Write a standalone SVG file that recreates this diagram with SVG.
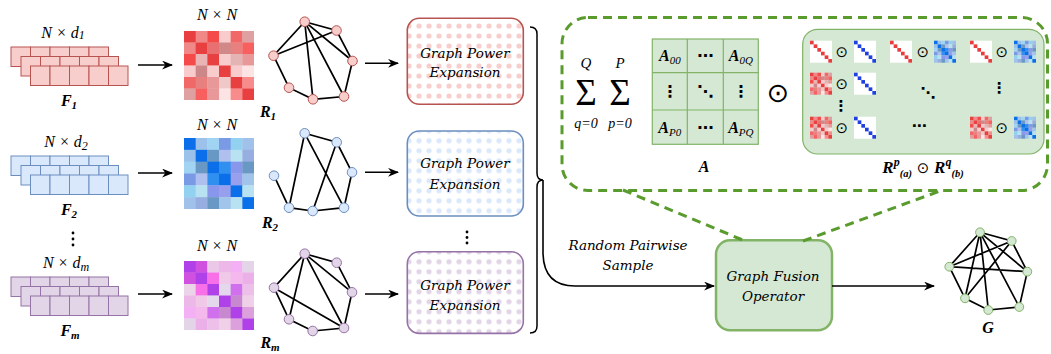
<svg xmlns="http://www.w3.org/2000/svg" xmlns:xlink="http://www.w3.org/1999/xlink" width="1051" height="354" viewBox="0 0 1051 354">
<style>
.m{font-family:"Liberation Serif",serif;font-style:italic}
.b{font-weight:bold}
.lb{font-family:"DejaVu Serif",serif;font-style:italic;font-size:13.5px}
.sym{font-family:"DejaVu Sans",sans-serif;font-style:normal;font-weight:normal}
.e{stroke:#000;stroke-width:1.7;fill:none}
.ar{stroke:#000;stroke-width:1.6;fill:none;marker-end:url(#ah)}
.nr{fill:#f8cecc;stroke:#b85450;stroke-width:1}
.nb{fill:#dae8fc;stroke:#6c8ebf;stroke-width:1}
.np{fill:#e1d5e7;stroke:#9673a6;stroke-width:1}
.ng{fill:#d5e8d4;stroke:#82b366;stroke-width:1}
.gd{stroke:#5a9b2e;stroke-width:3;fill:none;stroke-dasharray:9 6}
</style>
<defs>
<marker id="ah" viewBox="0 0 10 8" refX="9" refY="4" markerWidth="11" markerHeight="9" markerUnits="userSpaceOnUse" orient="auto"><path d="M0,0 L10,4 L0,8 L3,4 Z" fill="#000"/></marker>
<g id="layer"><rect x="0" y="0" width="19.5" height="19.5"/><rect x="19.5" y="0" width="19.5" height="19.5"/><rect x="39" y="0" width="19.5" height="19.5"/><rect x="58.5" y="0" width="19.5" height="19.5"/><rect x="78" y="0" width="19.5" height="19.5"/></g>
<g id="stack"><use xlink:href="#layer"/><use xlink:href="#layer" x="10" y="9.5"/><use xlink:href="#layer" x="19.5" y="19"/></g>
<pattern id="dr" x="414" y="21" width="10" height="10" patternUnits="userSpaceOnUse"><rect width="10" height="10" fill="#fff"/><circle cx="5" cy="5" r="2.6" fill="#f8cecc"/></pattern>
<pattern id="db" x="414" y="135.7" width="10" height="10" patternUnits="userSpaceOnUse"><rect width="10" height="10" fill="#fff"/><circle cx="5" cy="5" r="2.6" fill="#dae8fc"/></pattern>
<pattern id="dp" x="414" y="256.7" width="10" height="10" patternUnits="userSpaceOnUse"><rect width="10" height="10" fill="#fff"/><circle cx="5" cy="5" r="2.6" fill="#e1d5e7"/></pattern>
<g id="mR">
<rect x="0" y="0" width="10.3" height="10.3" fill="#e84040"/><rect x="10" y="0" width="10.3" height="10.3" fill="#f08888"/><rect x="20" y="0" width="10.3" height="10.3" fill="#f54a4a"/><rect x="30" y="0" width="10.3" height="10.3" fill="#f8cccc"/><rect x="40" y="0" width="10.3" height="10.3" fill="#f06868"/><rect x="50" y="0" width="10" height="10.3" fill="#dea0a0"/>
<rect x="0" y="10" width="10.3" height="10.3" fill="#f08888"/><rect x="10" y="10" width="10.3" height="10.3" fill="#e84040"/><rect x="20" y="10" width="10.3" height="10.3" fill="#e87070"/><rect x="30" y="10" width="10.3" height="10.3" fill="#d08888"/><rect x="40" y="10" width="10.3" height="10.3" fill="#e88080"/><rect x="50" y="10" width="10" height="10.3" fill="#f86060"/>
<rect x="0" y="20" width="10.3" height="10.3" fill="#f54a4a"/><rect x="10" y="20" width="10.3" height="10.3" fill="#eab4b4"/><rect x="20" y="20" width="10.3" height="10.3" fill="#e84040"/><rect x="30" y="20" width="10.3" height="10.3" fill="#f8cccc"/><rect x="40" y="20" width="10.3" height="10.3" fill="#e4b4b4"/><rect x="50" y="20" width="10" height="10.3" fill="#e89898"/>
<rect x="0" y="30" width="10.3" height="10.3" fill="#f8cccc"/><rect x="10" y="30" width="10.3" height="10.3" fill="#cc8888"/><rect x="20" y="30" width="10.3" height="10.3" fill="#f8cccc"/><rect x="30" y="30" width="10.3" height="10.3" fill="#e84040"/><rect x="40" y="30" width="10.3" height="10.3" fill="#f8cccc"/><rect x="50" y="30" width="10" height="10.3" fill="#fde4e4"/>
<rect x="0" y="40" width="10.3" height="10.3" fill="#f06868"/><rect x="10" y="40" width="10.3" height="10.3" fill="#e88080"/><rect x="20" y="40" width="10.3" height="10.3" fill="#e89898"/><rect x="30" y="40" width="10.3" height="10.3" fill="#f0c8c8"/><rect x="40" y="40" width="10.3" height="10.3" fill="#e84040"/><rect x="50" y="40" width="10" height="10.3" fill="#f88c8c"/>
<rect x="0" y="50" width="10.3" height="10" fill="#dea0a0"/><rect x="10" y="50" width="10.3" height="10" fill="#f86060"/><rect x="20" y="50" width="10.3" height="10" fill="#e89898"/><rect x="30" y="50" width="10.3" height="10" fill="#fde4e4"/><rect x="40" y="50" width="10.3" height="10" fill="#f88c8c"/><rect x="50" y="50" width="10" height="10" fill="#e84040"/>
</g>
<g id="mB">
<rect x="0" y="0" width="10.3" height="10.3" fill="#0a6fe8"/><rect x="10" y="0" width="10.3" height="10.3" fill="#9cc2ec"/><rect x="20" y="0" width="10.3" height="10.3" fill="#a0d4f2"/><rect x="30" y="0" width="10.3" height="10.3" fill="#7a9ae6"/><rect x="40" y="0" width="10.3" height="10.3" fill="#92d2f0"/><rect x="50" y="0" width="10" height="10.3" fill="#a0c2ea"/>
<rect x="0" y="10" width="10.3" height="10.3" fill="#9cc2ec"/><rect x="10" y="10" width="10.3" height="10.3" fill="#0a6fe8"/><rect x="20" y="10" width="10.3" height="10.3" fill="#6a98c4"/><rect x="30" y="10" width="10.3" height="10.3" fill="#b0c0ee"/><rect x="40" y="10" width="10.3" height="10.3" fill="#b8e2f2"/><rect x="50" y="10" width="10" height="10.3" fill="#96aee0"/>
<rect x="0" y="20" width="10.3" height="10.3" fill="#a0d4f2"/><rect x="10" y="20" width="10.3" height="10.3" fill="#6a98c4"/><rect x="20" y="20" width="10.3" height="10.3" fill="#0a6fe8"/><rect x="30" y="20" width="10.3" height="10.3" fill="#3090f0"/><rect x="40" y="20" width="10.3" height="10.3" fill="#8896ec"/><rect x="50" y="20" width="10" height="10.3" fill="#6a98c4"/>
<rect x="0" y="30" width="10.3" height="10.3" fill="#7a9ae6"/><rect x="10" y="30" width="10.3" height="10.3" fill="#b0c0ee"/><rect x="20" y="30" width="10.3" height="10.3" fill="#3090f0"/><rect x="30" y="30" width="10.3" height="10.3" fill="#0a6fe8"/><rect x="40" y="30" width="10.3" height="10.3" fill="#98a0ee"/><rect x="50" y="30" width="10" height="10.3" fill="#a0c4ea"/>
<rect x="0" y="40" width="10.3" height="10.3" fill="#92d2f0"/><rect x="10" y="40" width="10.3" height="10.3" fill="#b8e2f2"/><rect x="20" y="40" width="10.3" height="10.3" fill="#8896ec"/><rect x="30" y="40" width="10.3" height="10.3" fill="#98a0ee"/><rect x="40" y="40" width="10.3" height="10.3" fill="#0a6fe8"/><rect x="50" y="40" width="10" height="10.3" fill="#b8e2f2"/>
<rect x="0" y="50" width="10.3" height="10" fill="#a0c2ea"/><rect x="10" y="50" width="10.3" height="10" fill="#96aee0"/><rect x="20" y="50" width="10.3" height="10" fill="#6a98c4"/><rect x="30" y="50" width="10.3" height="10" fill="#a0c4ea"/><rect x="40" y="50" width="10.3" height="10" fill="#b8e2f2"/><rect x="50" y="50" width="10" height="10" fill="#0a6fe8"/>
</g>
<g id="mP">
<rect x="0" y="0" width="10.3" height="10.3" fill="#b040e8"/><rect x="10" y="0" width="10.3" height="10.3" fill="#d050e0"/><rect x="20" y="0" width="10.3" height="10.3" fill="#ecc8e8"/><rect x="30" y="0" width="10.3" height="10.3" fill="#ecb8e8"/><rect x="40" y="0" width="10.3" height="10.3" fill="#f4b0f4"/><rect x="50" y="0" width="10" height="10.3" fill="#e4d4e8"/>
<rect x="0" y="10" width="10.3" height="10.3" fill="#d050e0"/><rect x="10" y="10" width="10.3" height="10.3" fill="#b040e8"/><rect x="20" y="10" width="10.3" height="10.3" fill="#f870e8"/><rect x="30" y="10" width="10.3" height="10.3" fill="#f0c8e8"/><rect x="40" y="10" width="10.3" height="10.3" fill="#f4b8ec"/><rect x="50" y="10" width="10" height="10.3" fill="#ecb0e8"/>
<rect x="0" y="20" width="10.3" height="10.3" fill="#ecd4e8"/><rect x="10" y="20" width="10.3" height="10.3" fill="#f870e8"/><rect x="20" y="20" width="10.3" height="10.3" fill="#b040e8"/><rect x="30" y="20" width="10.3" height="10.3" fill="#e4d8ec"/><rect x="40" y="20" width="10.3" height="10.3" fill="#d070ec"/><rect x="50" y="20" width="10" height="10.3" fill="#ecc0e8"/>
<rect x="0" y="30" width="10.3" height="10.3" fill="#ecb8e8"/><rect x="10" y="30" width="10.3" height="10.3" fill="#f0c8e8"/><rect x="20" y="30" width="10.3" height="10.3" fill="#e4d8ec"/><rect x="30" y="30" width="10.3" height="10.3" fill="#b040e8"/><rect x="40" y="30" width="10.3" height="10.3" fill="#c888d0"/><rect x="50" y="30" width="10" height="10.3" fill="#f0d0e8"/>
<rect x="0" y="40" width="10.3" height="10.3" fill="#f4b0f4"/><rect x="10" y="40" width="10.3" height="10.3" fill="#f4b8ec"/><rect x="20" y="40" width="10.3" height="10.3" fill="#d070ec"/><rect x="30" y="40" width="10.3" height="10.3" fill="#c888d0"/><rect x="40" y="40" width="10.3" height="10.3" fill="#b040e8"/><rect x="50" y="40" width="10" height="10.3" fill="#dca0dc"/>
<rect x="0" y="50" width="10.3" height="10" fill="#e4d4e8"/><rect x="10" y="50" width="10.3" height="10" fill="#ecb0e8"/><rect x="20" y="50" width="10.3" height="10" fill="#ecc0e8"/><rect x="30" y="50" width="10.3" height="10" fill="#f0d0e8"/><rect x="40" y="50" width="10.3" height="10" fill="#dca0dc"/><rect x="50" y="50" width="10" height="10" fill="#b040e8"/>
</g>
<g id="mD"><rect width="60" height="60" fill="#fff"/><rect x="0" y="0" width="10" height="10"/><rect x="10" y="10" width="10" height="10"/><rect x="20" y="20" width="10" height="10"/><rect x="30" y="30" width="10" height="10"/><rect x="40" y="40" width="10" height="10"/><rect x="50" y="50" width="10" height="10"/></g>
</defs>
<rect width="1051" height="354" fill="#fff"/>

<g id="F1">
<use xlink:href="#stack" x="11" y="47" fill="#f8cecc" stroke="#b85450" stroke-width="1"/>
<text x="63" y="38" class="m" font-size="16" text-anchor="middle">N × d<tspan font-size="12" dy="1">1</tspan></text>
<text x="69" y="106" class="m b" font-size="16" text-anchor="middle">F<tspan font-size="11" dy="3">1</tspan></text>
</g>
<g id="F2">
<use xlink:href="#stack" x="11" y="156" fill="#dae8fc" stroke="#6c8ebf" stroke-width="1"/>
<text x="66" y="147" class="m" font-size="16" text-anchor="middle">N × d<tspan font-size="12" dy="3">2</tspan></text>
<text x="69" y="215" class="m b" font-size="16" text-anchor="middle">F<tspan font-size="11" dy="3">2</tspan></text>
</g>
<g id="Fdots"><circle cx="73" cy="233" r="1.4"/><circle cx="73" cy="239" r="1.4"/><circle cx="73" cy="245" r="1.4"/></g>
<g id="Fm">
<use xlink:href="#stack" x="11" y="277" fill="#e1d5e7" stroke="#9673a6" stroke-width="1"/>
<text x="66" y="268" class="m" font-size="16" text-anchor="middle">N × d<tspan font-size="12" dy="3">m</tspan></text>
<text x="70" y="336" class="m b" font-size="16" text-anchor="middle">F<tspan font-size="11" dy="3">m</tspan></text>
</g>

<g id="R1mat">
<text x="217" y="20" class="m" font-size="16" text-anchor="middle">N × N</text>
<use xlink:href="#mR" transform="translate(184,31) scale(1.1667,1.15)"/>
<text x="268" y="117" class="m b" font-size="16" text-anchor="middle">R<tspan font-size="11" dy="3">1</tspan></text>
</g>
<g id="R2mat">
<text x="217" y="130" class="m" font-size="16" text-anchor="middle">N × N</text>
<use xlink:href="#mB" transform="translate(184,138) scale(1.1667,1.183)"/>
<text x="270" y="228" class="m b" font-size="16" text-anchor="middle">R<tspan font-size="11" dy="3">2</tspan></text>
</g>
<g id="Rmmat">
<text x="217" y="251" class="m" font-size="16" text-anchor="middle">N × N</text>
<use xlink:href="#mP" transform="translate(184,261) scale(1.1667,1.15)"/>
<text x="270" y="348" class="m b" font-size="16" text-anchor="middle">R<tspan font-size="11" dy="3">m</tspan></text>
</g>

<g id="G1">
<path class="e" d="M304.7,21.7L336.5,30.5L352.5,61L344,96.5L313,99.3L289,87.7L273.5,55.7L304.7,21.7M273.5,55.7L336.5,30.5M304.7,21.7L313,99.3M304.7,21.7L344,96.5M304.7,21.7L352.5,61"/>
<circle class="nr" cx="304.7" cy="21.7" r="4.8"/><circle class="nr" cx="336.5" cy="30.5" r="4.8"/><circle class="nr" cx="352.5" cy="61" r="4.8"/><circle class="nr" cx="344" cy="96.5" r="4.8"/><circle class="nr" cx="313" cy="99.3" r="4.8"/><circle class="nr" cx="289" cy="87.7" r="4.8"/><circle class="nr" cx="273.5" cy="55.7" r="4.8"/>
</g>
<g id="G2">
<path class="e" d="M304.7,133.3L336.7,142.3L352,172.3L344,207.7L312.7,211L289,207.7L274,175.7M304.7,133.3L289,207.7M304.7,133.3L344,207.7M336.7,142.3L312.7,211"/>
<circle class="nb" cx="304.7" cy="133.3" r="4.8"/><circle class="nb" cx="336.7" cy="142.3" r="4.8"/><circle class="nb" cx="352" cy="172.3" r="4.8"/><circle class="nb" cx="344" cy="207.7" r="4.8"/><circle class="nb" cx="312.7" cy="211" r="4.8"/><circle class="nb" cx="289" cy="207.7" r="4.8"/><circle class="nb" cx="274" cy="175.7" r="4.8"/>
</g>
<g id="Gm">
<path class="e" d="M304.7,253.7L336.7,262.7L352,292.3L344,328L312.7,331L289,319.3L274,287.7L304.7,253.7M304.7,253.7L289,319.3M304.7,253.7L344,328M304.7,253.7L352,292.3M274,287.7L344,328"/>
<circle class="np" cx="304.7" cy="253.7" r="4.8"/><circle class="np" cx="336.7" cy="262.7" r="4.8"/><circle class="np" cx="352" cy="292.3" r="4.8"/><circle class="np" cx="344" cy="328" r="4.8"/><circle class="np" cx="312.7" cy="331" r="4.8"/><circle class="np" cx="289" cy="319.3" r="4.8"/><circle class="np" cx="274" cy="287.7" r="4.8"/>
</g>

<g id="GPE1">
<rect x="407.3" y="18.3" width="116" height="86" rx="12" fill="url(#dr)" stroke="#b85450" stroke-width="1.6"/>
<text x="465" y="58" class="lb" text-anchor="middle">Graph Power</text>
<text x="465" y="77" class="lb" text-anchor="middle">Expansion</text>
</g>
<g id="GPE2">
<rect x="407.3" y="131" width="116" height="85" rx="12" fill="url(#db)" stroke="#6c8ebf" stroke-width="1.6"/>
<text x="465" y="168" class="lb" text-anchor="middle">Graph Power</text>
<text x="465" y="189" class="lb" text-anchor="middle">Expansion</text>
</g>
<g id="GPEdots"><circle cx="467" cy="232" r="1.4"/><circle cx="467" cy="237.5" r="1.4"/><circle cx="467" cy="243" r="1.4"/></g>
<g id="GPE3">
<rect x="407.3" y="251.7" width="116" height="81.7" rx="12" fill="url(#dp)" stroke="#9673a6" stroke-width="1.6"/>
<text x="465" y="290" class="lb" text-anchor="middle">Graph Power</text>
<text x="465" y="310" class="lb" text-anchor="middle">Expansion</text>
</g>

<g id="zoomArea">
<rect x="562" y="17.5" width="485.5" height="173" rx="26" class="gd"/>
<text x="586" y="105" class="m" font-size="37" text-anchor="middle" style="font-style:normal">Σ</text>
<text x="620" y="105" class="m" font-size="37" text-anchor="middle" style="font-style:normal">Σ</text>
<text x="586" y="68" class="m" font-size="15" text-anchor="middle">Q</text>
<text x="620" y="68" class="m" font-size="15" text-anchor="middle">P</text>
<text x="586" y="128" class="m" font-size="14" text-anchor="middle">q=0</text>
<text x="620" y="128" class="m" font-size="14" text-anchor="middle">p=0</text>
<g id="Amat">
<rect x="652.3" y="39" width="106" height="105.3" fill="#d5e8d4" stroke="#82b366" stroke-width="1.2"/>
<path d="M687.3,39V144.3M723.3,39V144.3M652.3,72.7H758.3M652.3,110H758.3" stroke="#82b366" stroke-width="1.2" fill="none"/>
<text x="669.8" y="61" class="m" font-size="16" text-anchor="middle"><tspan class="b">A</tspan><tspan font-size="11" dy="3">00</tspan></text>
<text x="740.8" y="61" class="m" font-size="16" text-anchor="middle"><tspan class="b">A</tspan><tspan font-size="11" dy="3">0Q</tspan></text>
<text x="669.8" y="132.5" class="m" font-size="16" text-anchor="middle"><tspan class="b">A</tspan><tspan font-size="11" dy="3">P0</tspan></text>
<text x="740.8" y="132.5" class="m" font-size="16" text-anchor="middle"><tspan class="b">A</tspan><tspan font-size="11" dy="3">PQ</tspan></text>
<text x="705.3" y="61" class="sym" font-size="16" text-anchor="middle" style="font-weight:bold">⋯</text>
<text x="705.3" y="132.5" class="sym" font-size="16" text-anchor="middle" style="font-weight:bold">⋯</text>
<text x="669.8" y="97" class="sym" font-size="16" text-anchor="middle" style="font-weight:bold">⋮</text>
<text x="740.8" y="97" class="sym" font-size="16" text-anchor="middle" style="font-weight:bold">⋮</text>
<text x="705.3" y="97" class="sym" font-size="16" text-anchor="middle" style="font-weight:bold">⋱</text>
<text x="704" y="172" class="m b" font-size="16" text-anchor="middle">A</text>
</g>
<text x="778" y="102" class="sym" font-size="27" text-anchor="middle">⊙</text>
<g id="Rbox">
<rect x="802.7" y="29.3" width="241.3" height="124.7" rx="15" fill="#d5e8d4" stroke="#82b366" stroke-width="1.2"/>
<use xlink:href="#mD" fill="#e83c3c" transform="translate(810,40.7) scale(0.3667)"/>
<use xlink:href="#mD" fill="#1f3fe0" transform="translate(854,40.7) scale(0.3667)"/>
<use xlink:href="#mD" fill="#e83c3c" transform="translate(890,40.7) scale(0.3667)"/>
<use xlink:href="#mB" transform="translate(934,40.7) scale(0.3667)"/>
<use xlink:href="#mD" fill="#e83c3c" transform="translate(970,40.7) scale(0.3667)"/>
<use xlink:href="#mB" transform="translate(1014,40.7) scale(0.3667)"/>
<use xlink:href="#mR" transform="translate(810,72.7) scale(0.3667)"/>
<use xlink:href="#mD" fill="#1f3fe0" transform="translate(854,72.7) scale(0.3667)"/>
<use xlink:href="#mR" transform="translate(810,116.7) scale(0.3667)"/>
<use xlink:href="#mD" fill="#1f3fe0" transform="translate(854,116.7) scale(0.3667)"/>
<use xlink:href="#mR" transform="translate(970,116.7) scale(0.3667)"/>
<use xlink:href="#mB" transform="translate(1014,116.7) scale(0.3667)"/>
<text x="841.7" y="57" class="sym" font-size="15" text-anchor="middle">⊙</text>
<text x="922.7" y="57" class="sym" font-size="15" text-anchor="middle">⊙</text>
<text x="1001.7" y="57" class="sym" font-size="15" text-anchor="middle">⊙</text>
<text x="841.7" y="89" class="sym" font-size="15" text-anchor="middle">⊙</text>
<text x="841.7" y="133" class="sym" font-size="15" text-anchor="middle">⊙</text>
<text x="1001.7" y="133" class="sym" font-size="15" text-anchor="middle">⊙</text>
<text x="841" y="111" class="sym" font-size="15" text-anchor="middle" style="font-weight:bold">⋮</text>
<text x="999.3" y="93" class="sym" font-size="15" text-anchor="middle" style="font-weight:bold">⋮</text>
<text x="928" y="98" class="sym" font-size="15" text-anchor="middle" style="font-weight:bold">⋱</text>
<text x="919.3" y="131" class="sym" font-size="15" text-anchor="middle" style="font-weight:bold">⋯</text>
</g>
<text x="923" y="173" class="m b" font-size="17" text-anchor="middle">R<tspan font-size="12" dy="-7">p</tspan><tspan font-size="10.5" dy="11">(a)</tspan><tspan class="sym" font-size="15" dy="-4"> ⊙ </tspan>R<tspan font-size="12" dy="-7">q</tspan><tspan font-size="10.5" dy="11">(b)</tspan></text>
</g>

<g id="fusion">
<rect x="716" y="240.3" width="116" height="90" rx="14" fill="#d5e8d4" stroke="#82b366" stroke-width="2.5"/>
<text x="773" y="281" class="lb" text-anchor="middle">Graph Fusion</text>
<text x="773" y="301" class="lb" text-anchor="middle">Operator</text>
</g>

<g id="Gout">
<path class="e" d="M980,232.3L1011.7,241L1027.3,271.7L1019.3,307L988.3,310L965,298.3L949.3,266.7L980,232.3M980,232.3L965,298.3M980,232.3L988.3,310M980,232.3L1019.3,307M980,232.3L1027.3,271.7M1011.7,241L949.3,266.7M1011.7,241L965,298.3M949.3,266.7L1027.3,271.7"/>
<circle class="ng" cx="980" cy="232.3" r="4.4"/><circle class="ng" cx="1011.7" cy="241" r="4.4"/><circle class="ng" cx="1027.3" cy="271.7" r="4.4"/><circle class="ng" cx="1019.3" cy="307" r="4.4"/><circle class="ng" cx="988.3" cy="310" r="4.4"/><circle class="ng" cx="965" cy="298.3" r="4.4"/><circle class="ng" cx="949.3" cy="266.7" r="4.4"/>
<text x="988" y="333" class="m b" font-size="16" text-anchor="middle">G</text>
</g>

<g id="connectors">
<line class="ar" x1="138" y1="65" x2="172" y2="65"/>
<line class="ar" x1="138" y1="173" x2="172" y2="173"/>
<line class="ar" x1="138" y1="294" x2="172" y2="294"/>
<line class="ar" x1="365" y1="63.3" x2="398" y2="63.3"/>
<line class="ar" x1="365" y1="172.3" x2="398" y2="172.3"/>
<line class="ar" x1="365" y1="294" x2="398" y2="294"/>
<path d="M530,27Q537,27 537,34L537,173Q537,180 543,180Q537,180 537,187L537,326Q537,333 530,333" stroke="#000" stroke-width="1.5" fill="none"/>
<path class="ar" d="M543,180L543,252Q543,286 575,286L714,286"/>
<text x="628" y="250" class="lb" text-anchor="middle">Random Pairwise</text>
<text x="628" y="270" class="lb" text-anchor="middle">Sample</text>
<line class="ar" x1="832" y1="286" x2="934" y2="286"/>
<line class="gd" x1="623" y1="190" x2="745" y2="241"/>
<line class="gd" x1="803" y1="241" x2="940" y2="191"/>
</g>
</svg>
